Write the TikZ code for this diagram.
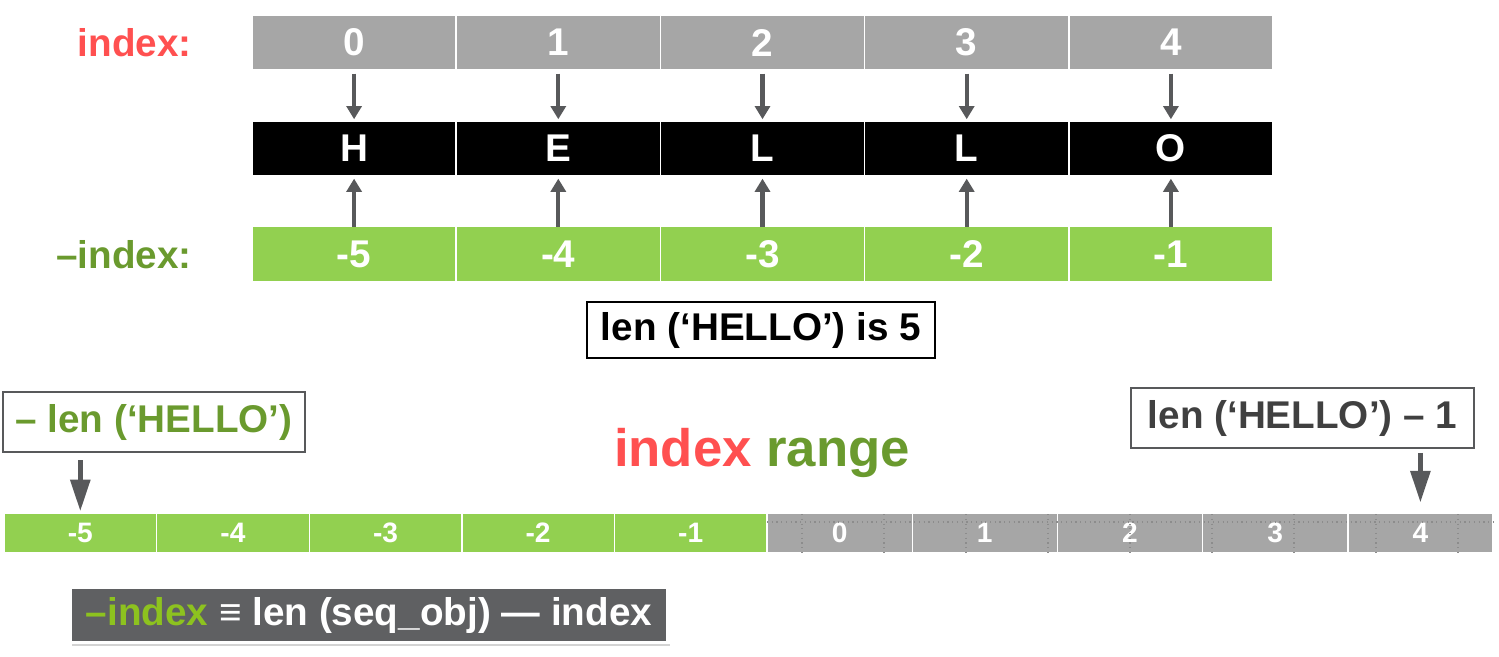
\documentclass[tikz,border=0pt]{standalone}
\usepackage{fontspec}
\setmainfont{Liberation Sans}
\usepackage{tikz}
\usetikzlibrary{positioning,chains,arrows.meta,shadows}

\definecolor{cellgray}{HTML}{A6A6A6}
\definecolor{cellgreen}{HTML}{92D050}
\definecolor{idxred}{HTML}{FF5050}
\definecolor{idxgreen}{HTML}{6A9A2E}
\definecolor{arrowgray}{HTML}{58595B}
\definecolor{boxgray}{HTML}{5F6062}
\definecolor{brightgreen}{HTML}{8DC21F}
\definecolor{textgray}{HTML}{404040}

\begin{document}
\begin{tikzpicture}[font=\bfseries]
	\useasboundingbox (0,0) rectangle (29.98,-13.12);

	\edef\cellw{4.084cm}
	\tikzstyle{cell}=[draw=white,line width=1pt,minimum width=\cellw,minimum height=1.1cm,inner sep=0pt,outer sep=0pt,text=white,font=\fontsize{22}{26}\selectfont\bfseries]
	\tikzstyle{rangecell}=[draw=white,line width=0.8pt,minimum height=0.8cm,inner sep=0pt,outer sep=0pt,text=white,font=\fontsize{16}{19}\selectfont\bfseries]
	\tikzstyle{label}=[anchor=east,inner sep=0pt,font=\fontsize{22}{26}\selectfont\bfseries]
	\tikzstyle{toparrow}=[arrowgray,line width=2.4pt,-{Triangle[width=8.5pt,length=7.5pt]}]
	\tikzstyle{bigarrow}=[arrowgray,line width=2.8pt,-{Triangle[width=11pt,length=18pt]}]
	\tikzstyle{note}=[line width=1.6pt,inner sep=0pt,minimum height=1.2cm,font=\fontsize{22}{26}\selectfont\bfseries]
	\tikzstyle{guide}=[black!45,dotted,line width=0.7pt]

	%% Row labels
	\node[label,text=idxred] (lblpos) at (3.84,-0.85) {index:};
	\node[label,text=idxgreen] (lblneg) at (3.84,-5.1) {–index:};

	%% Positive indices
	\begin{scope}[start chain=pos going right,node distance=0mm]
		\node [on chain=pos,cell,fill=cellgray] (p0) at (7.082,-0.85) {0};
		\node [on chain=pos,cell,fill=cellgray] (p1) {1};
		\node [on chain=pos,cell,fill=cellgray] (p2) {2};
		\node [on chain=pos,cell,fill=cellgray] (p3) {3};
		\node [on chain=pos,cell,fill=cellgray] (p4) {4};
	\end{scope}

	%% Characters
	\begin{scope}[start chain=chr going right,node distance=0mm]
		\node [on chain=chr,cell,fill=black] (c0) at (7.082,-2.97) {H};
		\node [on chain=chr,cell,fill=black] (c1) {E};
		\node [on chain=chr,cell,fill=black] (c2) {L};
		\node [on chain=chr,cell,fill=black] (c3) {L};
		\node [on chain=chr,cell,fill=black] (c4) {O};
	\end{scope}

	%% Negative indices
	\begin{scope}[start chain=neg going right,node distance=0mm]
		\node [on chain=neg,cell,fill=cellgreen] (n0) at (7.082,-5.08) {-5};
		\node [on chain=neg,cell,fill=cellgreen] (n1) {-4};
		\node [on chain=neg,cell,fill=cellgreen] (n2) {-3};
		\node [on chain=neg,cell,fill=cellgreen] (n3) {-2};
		\node [on chain=neg,cell,fill=cellgreen] (n4) {-1};
	\end{scope}

	\path[toparrow,shorten <=2pt,shorten >=1pt]
		(p0.south) edge (c0.north)
		(p1.south) edge (c1.north)
		(p2.south) edge (c2.north)
		(p3.south) edge (c3.north)
		(p4.south) edge (c4.north);
	\path[toparrow,shorten >=1.5pt]
		(n0.north) edge (c0.south)
		(n1.north) edge (c1.south)
		(n2.north) edge (c2.south)
		(n3.north) edge (c3.south)
		(n4.north) edge (c4.south);

	\node[note,draw=black,minimum width=6.96cm,minimum height=1.12cm] (lenis) at (15.22,-6.6) {len (‘HELLO’) is 5};

	%% Index range
	\node[note,draw=arrowgray,text=idxgreen,minimum width=6.04cm] (lenneg) at (3.08,-8.44) {– len (‘HELLO’)};
	\node[note,draw=arrowgray,text=textgray,minimum width=6.86cm] (lenone) at (26.05,-8.36) {len (‘HELLO’) – 1};
	\node[font=\fontsize{30}{36}\selectfont\bfseries] (range) at (15.24,-9.06) {\textcolor{idxred}{index} \textcolor{idxgreen}{range}};

	\begin{scope}[start chain=rng going right,node distance=0mm]
		\node [on chain=rng,rangecell,fill=cellgreen,minimum width=3.052cm] (m5) at (1.606,-10.66) {-5};
		\node [on chain=rng,rangecell,fill=cellgreen,minimum width=3.052cm] (m4) {-4};
		\node [on chain=rng,rangecell,fill=cellgreen,minimum width=3.052cm] (m3) {-3};
		\node [on chain=rng,rangecell,fill=cellgreen,minimum width=3.052cm] (m2) {-2};
		\node [on chain=rng,rangecell,fill=cellgreen,minimum width=3.052cm] (m1) {-1};
		\node [on chain=rng,rangecell,fill=cellgray,minimum width=2.904cm] (q0) {0};
		\node [on chain=rng,rangecell,fill=cellgray,minimum width=2.904cm] (q1) {1};
		\node [on chain=rng,rangecell,fill=cellgray,minimum width=2.904cm] (q2) {2};
		\node [on chain=rng,rangecell,fill=cellgray,minimum width=2.904cm] (q3) {3};
		\node [on chain=rng,rangecell,fill=cellgray,minimum width=2.904cm] (q4) {4};
	\end{scope}

	% faint guide dots over the gray part
	\draw[guide] (q0.west |- 0,-10.44) -- (q4.east |- 0,-10.44);
	\foreach \gx in {16.04,17.68,19.32,20.96,22.60,24.24,25.88,27.52,29.16}
		\draw[guide] (\gx,-10.28) -- (\gx,-11.04);

	\draw[bigarrow,shorten <=4pt,shorten >=1pt] (lenneg.south -| m5.north) -- (m5.north);
	\draw[bigarrow,shorten <=2pt,shorten >=6pt] (lenone.south -| q4.north) -- (q4.north);

	%% Formula
	\node[fill=boxgray,draw=white,line width=2pt,minimum width=11.96cm,minimum height=1.1cm,inner sep=0pt,text=white,
		drop shadow={opacity=0.35,shadow xshift=1pt,shadow yshift=-2pt},font=\fontsize{22}{26}\selectfont\bfseries] (formula) at (7.38,-12.3)
		{\textcolor{brightgreen}{–index} {\mdseries ≡} len (seq\_obj) — index};
\end{tikzpicture}
\end{document}
